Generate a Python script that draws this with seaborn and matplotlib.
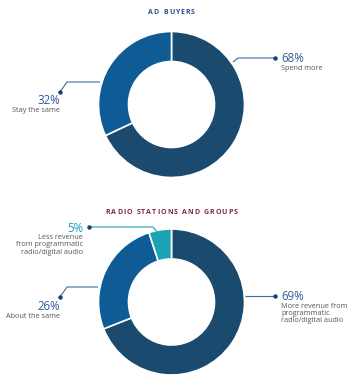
import matplotlib
matplotlib.use("Agg")
import matplotlib.pyplot as plt
import seaborn as sns

sns.set_theme(style="white")
plt.rcParams["font.family"] = ["Open Sans", "DejaVu Sans"]

# Survey answers
buyer_labels = ["Spend more", "Stay the same"]
buyer_values = [68, 32]

radio_labels = ["More revenue from\nprogrammatic\nradio/digital audio",
                "About the same",
                "Less revenue\nfrom programmatic\nradio/digital audio"]
radio_values = [69, 26, 5]

DARK = "#1a4b6f"
MID = "#0f5b95"
TEAL = "#1aa3b5"
PCT_BLUE = "#2c5c9c"
GREY = "#555555"
LINE = "#3a6ea5"

W, H = 350, 382
fig = plt.figure(figsize=(W / 100, H / 100), dpi=100)
ax = fig.add_axes([0, 0, 1, 1])
renderer = fig.canvas.get_renderer()


def Y(y):
    return H - y


def spaced_title(cx, y, text, color, size=5.0, track=1.0):
    """Draw a bold title with extra letter tracking, centred on cx."""
    chars = []
    widths = []
    for ch in text:
        t = ax.text(0, Y(y), ch, fontsize=size, fontweight="bold",
                    color=color, va="center", ha="left")
        chars.append(t)
        if ch == " ":
            probe = ax.text(0, 0, "n", fontsize=size, fontweight="bold")
            w = probe.get_window_extent(renderer).width * 0.5
            probe.remove()
        else:
            w = t.get_window_extent(renderer).width
        widths.append(w)
    total = sum(widths) + track * (len(text) - 1)
    x = cx - total / 2
    for t, w in zip(chars, widths):
        t.set_x(x)
        x += w + track


def donut(cx, cy, values, colors):
    ax.pie(values, startangle=90, counterclock=False, radius=73,
           center=(cx, Y(cy)), colors=colors,
           wedgeprops=dict(width=30, edgecolor="white", linewidth=1.2))


def leader(points, dot, color=LINE):
    xs = [p[0] for p in points]
    ys = [Y(p[1]) for p in points]
    ax.plot(xs, ys, color=color, lw=0.8, solid_capstyle="butt")
    ax.plot([dot[0]], [Y(dot[1])], "o", color="#1d3f73", ms=2.2)


def label(x, y, pct, text, ha, pct_color=PCT_BLUE):
    ax.text(x, Y(y), f"{pct}%", ha=ha, va="center", fontsize=8.3,
            color=pct_color)
    ax.text(x, Y(y + 6), text, ha=ha, va="top", fontsize=5.2,
            color=GREY, linespacing=1.05)


# Pixel-based canvas; pies reset the limits, so they are set again below
ax.set_xlim(0, W)
ax.set_ylim(0, H)

# Ad buyers
donut(171.5, 104.5, buyer_values, [DARK, MID])
leader([(233, 62), (238, 58), (275, 58)], (275, 58))
label(281, 59, buyer_values[0], buyer_labels[0], "left")
leader([(100, 82), (67, 82), (60, 92)], (60, 92))
label(60, 101, buyer_values[1], buyer_labels[1], "right")

# Radio stations and groups
donut(171.5, 302, radio_values, [DARK, MID, TEAL])
leader([(245, 296), (275, 296)], (275, 296))
label(281, 297, radio_values[0], radio_labels[0], "left")
leader([(98, 287), (67, 287), (60, 297)], (60, 297))
label(60, 307, radio_values[1], radio_labels[1], "right")
leader([(157, 232), (153, 227), (89, 227)], (89, 227), color=TEAL)
label(83, 228, radio_values[2], radio_labels[2], "right", pct_color=TEAL)

ax.set_xlim(0, W)
ax.set_ylim(0, H)
ax.set_aspect("equal")
ax.axis("off")

spaced_title(171.5, 13, "AD BUYERS", "#2b4f8c")
spaced_title(171.5, 212, "RADIO STATIONS AND GROUPS", "#7a2a4a")

fig.savefig("out.png", dpi=100, facecolor="white")
